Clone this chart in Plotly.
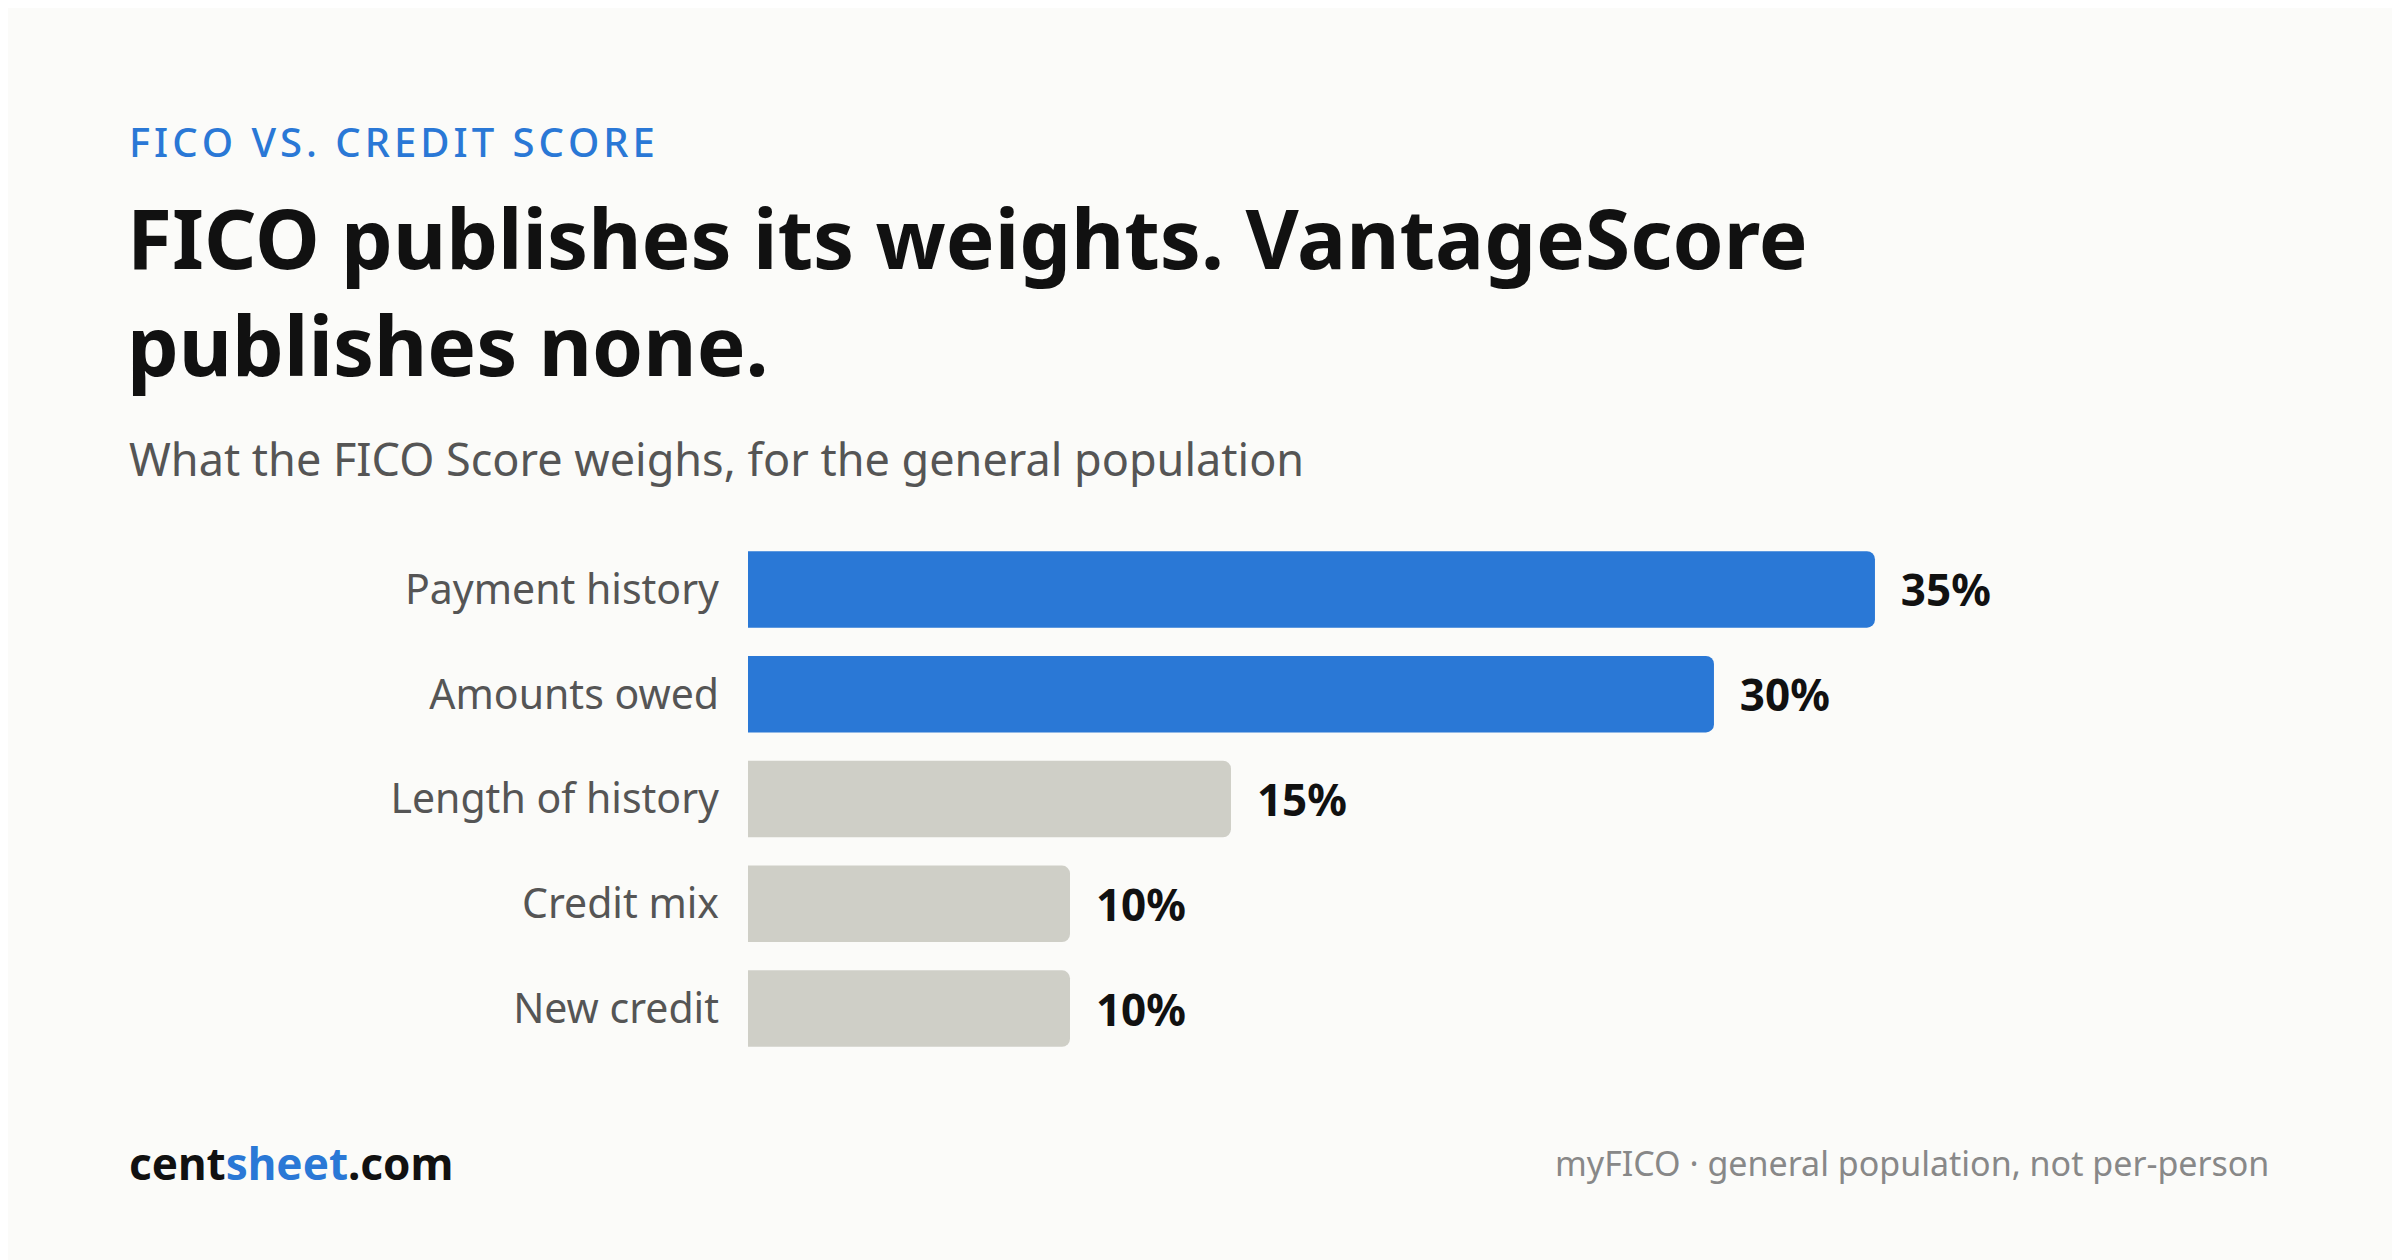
import plotly.graph_objects as go

# FICO score weights, general population (myFICO)
factors = ["Payment history", "Amounts owed", "Length of history", "Credit mix", "New credit"]
weights = [35, 30, 15, 10, 10]
highlight = [True, True, False, False, False]

W, H = 2400, 1260
OFF = 8  # page body margin
ML, MR, MT, MB = 748 - OFF, 129 + OFF, 537 - OFF, 199 + OFF
PW, PH = W - ML - MR, H - MT - MB

BLUE = "#2a78d6"
GREY = "#cfcfc7"
BG = "#fbfbf9"
FONT = "Noto Sans"


def px(x, y):
    # page pixels -> paper coords
    return (x - OFF - ML) / PW, (H - MB - (y - OFF)) / PH


colors = [BLUE if h else GREY for h in highlight]

fig = go.Figure(go.Bar(
    x=weights, y=factors, orientation="h",
    marker=dict(color=colors, line_width=0),
    width=0.73,
    text=[f"\u00a0\u00a0<b>{w}%</b>" for w in weights],
    textposition="outside",
    textfont=dict(size=44, color="#111111", family=FONT),
    cliponaxis=False,
    hoverinfo="skip",
))

annos = []


def add(text, x, y, size, color, xanchor="left", bold=False):
    ax, ay = px(x, y)
    annos.append(dict(
        text=f"<b>{text}</b>" if bold else text, x=ax, y=ay, xref="paper", yref="paper",
        xanchor=xanchor, yanchor="middle", showarrow=False,
        font=dict(size=size, color=color, family=FONT), align="left",
    ))


eyebrow = "\u200a".join("FICO VS. CREDIT SCORE")
add(eyebrow, 127, 141, 40, BLUE)
annos[-1]["font"]["weight"] = 500
add("FICO publishes its weights. VantageScore<br>publishes none.", 125, 290, 82, "#111111", bold=True)
add("What the FICO Score weighs, for the general population", 127, 459, 45, "#555555")
add("cent<span style='color:%s'>sheet</span>.com" % BLUE, 127, 1163, 44, "#111111", bold=True)
add("myFICO · general population, not per-person", 2271, 1163, 34, "#888888", xanchor="right")

fig.update_layout(
    width=W, height=H,
    margin=dict(l=ML, r=MR, t=MT, b=MB),
    paper_bgcolor=BG, plot_bgcolor=BG,
    barcornerradius=8,
    showlegend=False,
    annotations=annos,
    xaxis=dict(range=[0, 47.3], visible=False, fixedrange=True),
    yaxis=dict(
        categoryorder="array", categoryarray=factors[::-1],
        tickfont=dict(size=41, color="#555555", family=FONT),
        ticks="", ticklabelstandoff=28, showgrid=False, zeroline=False,
        showline=False, fixedrange=True,
    ),
)

fig.write_html("out.html")
